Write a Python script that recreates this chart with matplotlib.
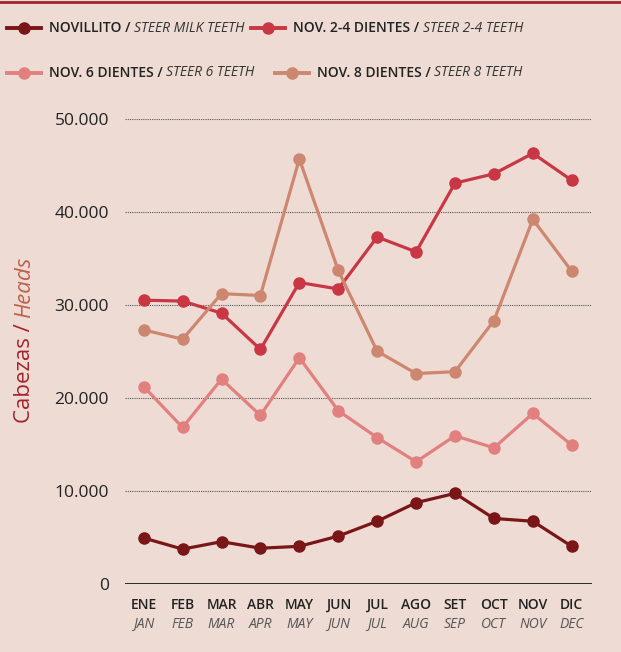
import matplotlib
matplotlib.use("Agg")
import matplotlib.pyplot as plt
from matplotlib.lines import Line2D

plt.rcParams['font.family'] = ['Open Sans', 'DejaVu Sans']

months_es = ["ENE", "FEB", "MAR", "ABR", "MAY", "JUN", "JUL", "AGO", "SET", "OCT", "NOV", "DIC"]
months_en = ["JAN", "FEB", "MAR", "APR", "MAY", "JUN", "JUL", "AUG", "SEP", "OCT", "NOV", "DEC"]

novillito = [4900, 3700, 4500, 3800, 4000, 5100, 6700, 8700, 9700, 7000, 6700, 4000]
nov_2_4 = [30500, 30400, 29100, 25200, 32400, 31700, 37300, 35700, 43100, 44100, 46300, 43400]
nov_6 = [21200, 16800, 22000, 18100, 24300, 18600, 15700, 13100, 15900, 14600, 18300, 14900]
nov_8 = [27300, 26300, 31200, 31000, 45700, 33700, 25000, 22600, 22800, 28300, 39200, 33600]

series_es = ["NOVILLITO", "NOV. 2-4 DIENTES", "NOV. 6 DIENTES", "NOV. 8 DIENTES"]
series_en = ["STEER MILK TEETH", "STEER 2-4 TEETH", "STEER 6 TEETH", "STEER 8 TEETH"]
colors = ["#7A1518", "#C83743", "#E2807F", "#CD8770"]

yticks = [0, 10000, 20000, 30000, 40000, 50000]
ytick_labels = ["0", "10.000", "20.000", "30.000", "40.000", "50.000"]

BG = "#EEDCD4"
W, H = 621, 652
fig = plt.figure(figsize=(W / 100, H / 100), dpi=100, facecolor=BG)

left, right, bottom, top = 125, 592, 583.5, 119
ax = fig.add_axes([left / W, 1 - bottom / H, (right - left) / W, (bottom - top) / H])
ax.set_facecolor(BG)

x = list(range(12))
all_series = [novillito, nov_2_4, nov_6, nov_8]
for vals, c in zip(all_series, colors):
    ax.plot(x, vals, color=c, lw=2.3, marker="o", ms=8, mec=c, mfc=c, zorder=3,
            solid_capstyle="round", clip_on=False)

ax.set_xlim(-0.48, 11.52)
ax.set_ylim(0, 50000)
ax.set_yticks(yticks)
ax.set_yticklabels(ytick_labels, fontsize=12.5, color="#222222", fontweight="medium")
ax.tick_params(axis="y", length=0, pad=11.5)
ax.set_xticks([])
for s in ax.spines.values():
    s.set_visible(False)
for yv in yticks[1:]:
    ax.axhline(yv, color="#555555", lw=0.8, ls=(0, (1, 1)), zorder=1)
ax.axhline(0, color="#1a1a1a", lw=2, zorder=2)

# month labels
for i, (es, en) in enumerate(zip(months_es, months_en)):
    xd = ax.transData.transform((i, 0))[0]
    fig.text(xd / W, 1 - 605 / H, es, ha="center", va="center", fontsize=10,
             fontweight="semibold", color="#222222")
    fig.text(xd / W, 1 - 624 / H, en, ha="center", va="center", fontsize=10,
             style="italic", color="#555555")

# y label
fig.canvas.draw()
r = fig.canvas.get_renderer()
t1 = fig.text(25 / W, 0, "Cabezas / ", rotation=90, ha="center", va="bottom",
              fontsize=16, color="#A5222B")
t2 = fig.text(25 / W, 0, "Heads", rotation=90, ha="center", va="bottom",
              fontsize=16, style="italic", color="#C0604E")
h1 = t1.get_window_extent(r).height
h2 = t2.get_window_extent(r).height
total = h1 + h2
ystart = (H - 340) - total / 2
t1.set_y(ystart / H)
t2.set_y((ystart + h1) / H)

# top band
fig.add_artist(Line2D([0, 1], [1 - 1.5 / H, 1 - 1.5 / H], color="#A3232D", lw=2,
                      transform=fig.transFigure))

# legend
legend_pos = [(7, 41, 49, 28), (251, 285, 293, 28), (7, 41, 49, 73), (275, 309, 317, 73)]
for (x0, x1, tx, ty), c, es, en in zip(legend_pos, colors, series_es, series_en):
    fig.add_artist(Line2D([x0 / W, x1 / W], [1 - ty / H] * 2, color=c, lw=2.8,
                          transform=fig.transFigure))
    fig.add_artist(Line2D([(x0 + x1) / 2 / W], [1 - ty / H], color=c, marker="o", ms=8,
                          transform=fig.transFigure))
    a = fig.text(tx / W, 1 - ty / H, es + " / ", ha="left", va="center", fontsize=10,
                 fontweight="semibold", color="#222222")
    wa = a.get_window_extent(r).width
    fig.text((tx + wa) / W, 1 - ty / H, en, ha="left", va="center", fontsize=10,
             style="italic", color="#333333")

fig.savefig("out.png", dpi=100, facecolor=BG)
